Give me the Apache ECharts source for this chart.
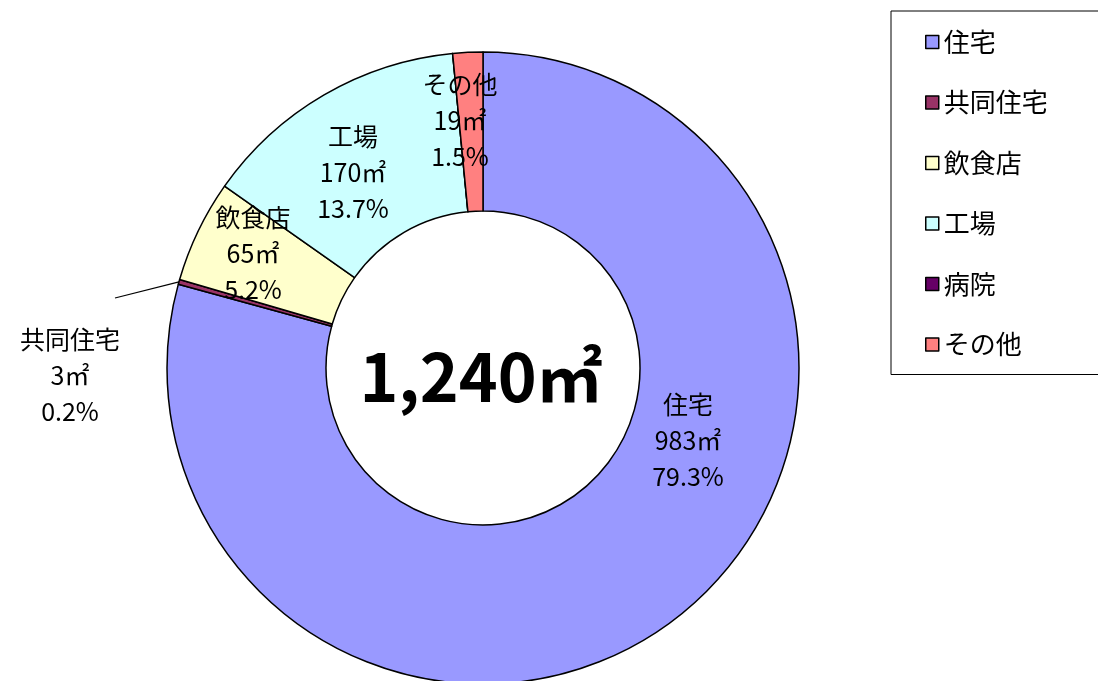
<!DOCTYPE html>
<html><head><meta charset="utf-8">
<script src="https://cdn.jsdelivr.net/npm/echarts@6/dist/echarts.min.js"></script>
<style>html,body{margin:0;padding:0;background:#fff}#c{width:1098px;height:681px}</style>
</head><body><div id="c"></div>
<script>
const categories = ['住宅','共同住宅','飲食店','工場','病院','その他'];
const values = [983, 3, 65, 170, 0, 19];
const colors = ['#9999FF','#993366','#FFFFCC','#CCFFFF','#660066','#FF8080'];
const unit = '㎡';
// label anchor positions (text centres, px)
const labelPos = [[688,440],[70,375],[253,253],[353,172],null,[460,120]];
// end of the leader line for 共同住宅, relative to its label centre
const leaderEnd = [45,-77];

const total = values.reduce((a,b)=>a+b,0);
const CX = 483, CY = 368, R_IN = 157, R_OUT = 316;
const chart = echarts.init(document.getElementById('c'), null, {renderer:'canvas'});
const font = '"Noto Sans CJK JP", sans-serif';

// leader line start: outer edge at the mid angle of 共同住宅
const before = values.slice(0,1).reduce((a,b)=>a+b,0);
const midFrac = (before + values[1]/2)/total;
const th = (90 - midFrac*360)*Math.PI/180;
const p0 = [CX + R_OUT*Math.cos(th), CY - R_OUT*Math.sin(th)];
const p1 = [labelPos[1][0]+leaderEnd[0], labelPos[1][1]+leaderEnd[1]];

chart.setOption({
  animation:false,
  legend:{
    orient:'vertical', left:891, top:11,
    padding:[18,56,17,34], itemGap:34.5, itemWidth:13, itemHeight:13,
    borderColor:'#000', borderWidth:1, icon:'rect',
    textStyle:{fontFamily:font, fontSize:26, color:'#000', lineHeight:26},
    itemStyle:{borderColor:'#000', borderWidth:1.5},
    data:categories
  },
  graphic:[
    {type:'text', silent:true,
      style:{text:total.toLocaleString('en-US')+unit, x:481, y:377, textAlign:'center', textVerticalAlign:'middle',
        font:'bold 66px "Noto Sans CJK JP", sans-serif', fill:'#000'}},
    {type:'line', silent:true, shape:{x1:p0[0], y1:p0[1], x2:p1[0], y2:p1[1]},
      style:{stroke:'#000', lineWidth:1.2}}
  ],
  series:[{
    type:'pie', center:[CX,CY], radius:[R_IN,R_OUT], startAngle:90, clockwise:true,
    avoidLabelOverlap:false,
    itemStyle:{borderColor:'#000', borderWidth:1.5},
    label:{show:true, position:'inside', fontFamily:font, fontSize:25, color:'#000',
      lineHeight:36, align:'center', verticalAlign:'middle',
      formatter:p=> p.name+'\n'+p.value+unit+'\n'+(p.value/total*100).toFixed(1)+'%'},
    labelLine:{show:false},
    labelLayout:function(p){
      const pos = labelPos[p.dataIndex];
      if(!pos) return {};
      return {x:pos[0], y:pos[1], align:'center', verticalAlign:'middle'};
    },
    data:categories.map((n,i)=>({name:n, value:values[i], itemStyle:{color:colors[i]},
      label:{show:values[i]>0}}))
  }]
});
</script></body></html>
